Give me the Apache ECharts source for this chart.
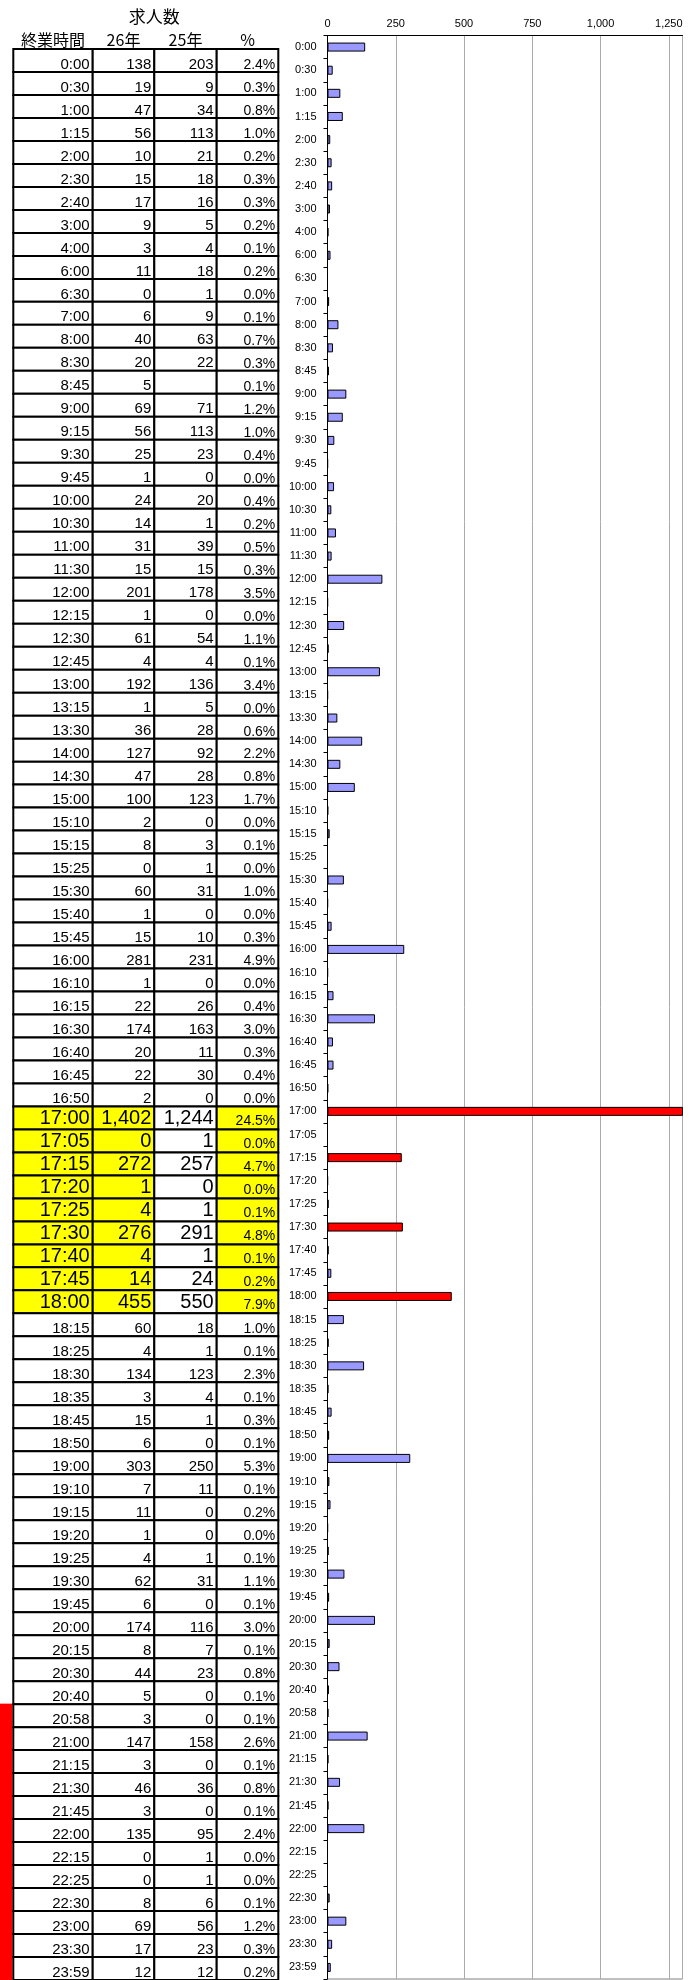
<!DOCTYPE html>
<html><head><meta charset="utf-8">
<script src="https://cdn.jsdelivr.net/npm/echarts/dist/echarts.min.js"></script>
<style>html,body{margin:0;padding:0;background:#fff}#c{width:693px;height:1980px}</style>
</head><body><div id="c"></div>
<script>
// ---- data ----
const times = ['0:00','0:30','1:00','1:15','2:00','2:30','2:40','3:00','4:00','6:00','6:30','7:00','8:00','8:30','8:45','9:00','9:15','9:30','9:45','10:00','10:30','11:00','11:30','12:00','12:15','12:30','12:45','13:00','13:15','13:30','14:00','14:30','15:00','15:10','15:15','15:25','15:30','15:40','15:45','16:00','16:10','16:15','16:30','16:40','16:45','16:50','17:00','17:05','17:15','17:20','17:25','17:30','17:40','17:45','18:00','18:15','18:25','18:30','18:35','18:45','18:50','19:00','19:10','19:15','19:20','19:25','19:30','19:45','20:00','20:15','20:30','20:40','20:58','21:00','21:15','21:30','21:45','22:00','22:15','22:25','22:30','23:00','23:30','23:59'];
const v26 = [138,19,47,56,10,15,17,9,3,11,0,6,40,20,5,69,56,25,1,24,14,31,15,201,1,61,4,192,1,36,127,47,100,2,8,0,60,1,15,281,1,22,174,20,22,2,1402,0,272,1,4,276,4,14,455,60,4,134,3,15,6,303,7,11,1,4,62,6,174,8,44,5,3,147,3,46,3,135,0,0,8,69,17,12];
const v25 = [203,9,34,113,21,18,16,5,4,18,1,9,63,22,null,71,113,23,0,20,1,39,15,178,0,54,4,136,5,28,92,28,123,0,3,1,31,0,10,231,0,26,163,11,30,0,1244,1,257,0,1,291,1,24,550,18,1,123,4,1,0,250,11,0,0,1,31,0,116,7,23,0,0,158,0,36,0,95,1,1,6,56,23,12];
const pct = ['2.4%','0.3%','0.8%','1.0%','0.2%','0.3%','0.3%','0.2%','0.1%','0.2%','0.0%','0.1%','0.7%','0.3%','0.1%','1.2%','1.0%','0.4%','0.0%','0.4%','0.2%','0.5%','0.3%','3.5%','0.0%','1.1%','0.1%','3.4%','0.0%','0.6%','2.2%','0.8%','1.7%','0.0%','0.1%','0.0%','1.0%','0.0%','0.3%','4.9%','0.0%','0.4%','3.0%','0.3%','0.4%','0.0%','24.5%','0.0%','4.7%','0.0%','0.1%','4.8%','0.1%','0.2%','7.9%','1.0%','0.1%','2.3%','0.1%','0.3%','0.1%','5.3%','0.1%','0.2%','0.0%','0.1%','1.1%','0.1%','3.0%','0.1%','0.8%','0.1%','0.1%','2.6%','0.1%','0.8%','0.1%','2.4%','0.0%','0.0%','0.1%','1.2%','0.3%','0.2%'];
const redBars = ['17:00','17:15','17:30','18:00'];
const yellowRows = ['17:00','17:05','17:15','17:20','17:25','17:30','17:40','17:45','18:00'];
const redSideFrom = '20:58';
const headers = ['終業時間','26年','25年','%'];
const tableTitle = '求人数';
const xTickStep = 250;
const xMax = 1300;

// ---- layout (not data) ----
const colEdges = [0, 79.4, 141, 203.4, 265];
const NUM_FONT = '"Liberation Sans", Arial, sans-serif';
const CJK_FONT = '"Noto Sans CJK JP", sans-serif';
const fmt = v => (v === null || v === undefined) ? '' : v.toLocaleString('en-US');
const redIdx = times.indexOf(redSideFrom);

function cellText(c, r) {
  if (c === 0) return times[r];
  if (c === 1) return fmt(v26[r]);
  if (c === 2) return fmt(v25[r]);
  return pct[r];
}

const tableData = [];
times.forEach((t, r) => { for (let c = 0; c < 4; c++) tableData.push([c, r]); });

function tableItem(params, api) {
  const c = api.value(0), r = api.value(1);
  const yc = api.coord([0, r])[1];
  const h = api.size([0, 1])[1];
  const xL = api.coord([colEdges[c], r])[0];
  const xR = api.coord([colEdges[c + 1], r])[0];
  const yT = yc - h / 2, yB = yc + h / 2;
  const hi = yellowRows.includes(times[r]);
  const fill = (hi && c !== 2) ? '#FFFF00' : '#FFFFFF';
  const fs = c === 3 ? 14 : (hi ? 20 : 15);
  const children = [];
  if (c === 0 && r >= redIdx) {
    children.push({type: 'rect', shape: {x: 0, y: yT - 0.5, width: xL - 1, height: h + 1}, style: {fill: '#FF0000'}});
  }
  children.push({type: 'rect', shape: {x: xL, y: yT, width: xR - xL, height: h}, style: {fill: fill, stroke: '#000', lineWidth: 2}});
  children.push({type: 'text', style: {x: xR - 3, y: yB - (hi ? 1 : 0), text: cellText(c, r), align: 'right', verticalAlign: 'bottom', font: fs + 'px ' + NUM_FONT, fill: '#000'}});
  return {type: 'group', children: children};
}

function headerItem(params, api) {
  const c = api.value(0);
  const yc = api.coord([0, 0])[1];
  const h = api.size([0, 1])[1];
  const xL = api.coord([colEdges[c], 0])[0];
  const xR = api.coord([colEdges[c + 1], 0])[0];
  const children = [{type: 'text', style: {x: (xL + xR) / 2, y: yc - h / 2 - 9, text: headers[c], align: 'center', verticalAlign: 'middle', font: '16px ' + CJK_FONT, fill: '#000'}}];
  if (c === 1) {
    children.push({type: 'text', style: {x: xR, y: yc - h / 2 - 32, text: tableTitle, align: 'center', verticalAlign: 'middle', font: '17px ' + CJK_FONT, fill: '#000'}});
  }
  return {type: 'group', children: children};
}

const barData = v26.map((v, i) => {
  const item = {value: v, itemStyle: {}};
  if (redBars.includes(times[i])) item.itemStyle.color = '#FF0000';
  if (v === 0) item.itemStyle.borderWidth = 0;
  return item;
});

const chart = echarts.init(document.getElementById('c'), null, {renderer: 'canvas'});
chart.setOption({
  animation: false,
  backgroundColor: '#fff',
  grid: [
    {left: 327.5, right: 10.5, top: 35.5, bottom: 1, show: true, borderColor: '#808080', borderWidth: 1, backgroundColor: 'transparent'},
    {left: 13.3, top: 49, width: 265, height: 84 * 23.05}
  ],
  xAxis: [
    {type: 'value', gridIndex: 0, position: 'top', min: 0, max: xMax, interval: xTickStep,
     axisLine: {show: true, lineStyle: {color: '#000', width: 1}},
     axisTick: {show: false},
     splitLine: {show: true, lineStyle: {color: '#AAAAAA', width: 1}},
     axisLabel: {color: '#000', fontSize: 11, fontFamily: NUM_FONT, margin: 6,
       formatter: v => (v % xTickStep === 0 ? fmt(v) : '')}},
    {type: 'value', gridIndex: 1, min: 0, max: 265, show: false}
  ],
  yAxis: [
    {type: 'category', gridIndex: 0, data: times, inverse: true,
     axisLine: {show: true, lineStyle: {color: '#000', width: 1}},
     axisTick: {show: true, length: 4, lineStyle: {color: '#000'}},
     axisLabel: {color: '#000', fontSize: 11, fontFamily: NUM_FONT, margin: 11, interval: 0}},
    {type: 'category', gridIndex: 1, data: times, inverse: true, show: false}
  ],
  series: [
    {type: 'bar', xAxisIndex: 0, yAxisIndex: 0, data: barData, barWidth: 9,
     itemStyle: {color: '#9999FF', borderColor: '#000', borderWidth: 1}, silent: true},
    {type: 'custom', xAxisIndex: 1, yAxisIndex: 1, data: tableData, renderItem: tableItem, silent: true, clip: false},
    {type: 'custom', xAxisIndex: 1, yAxisIndex: 1, data: [[0],[1],[2],[3]], renderItem: headerItem, silent: true, clip: false}
  ]
});
</script>
</body></html>
